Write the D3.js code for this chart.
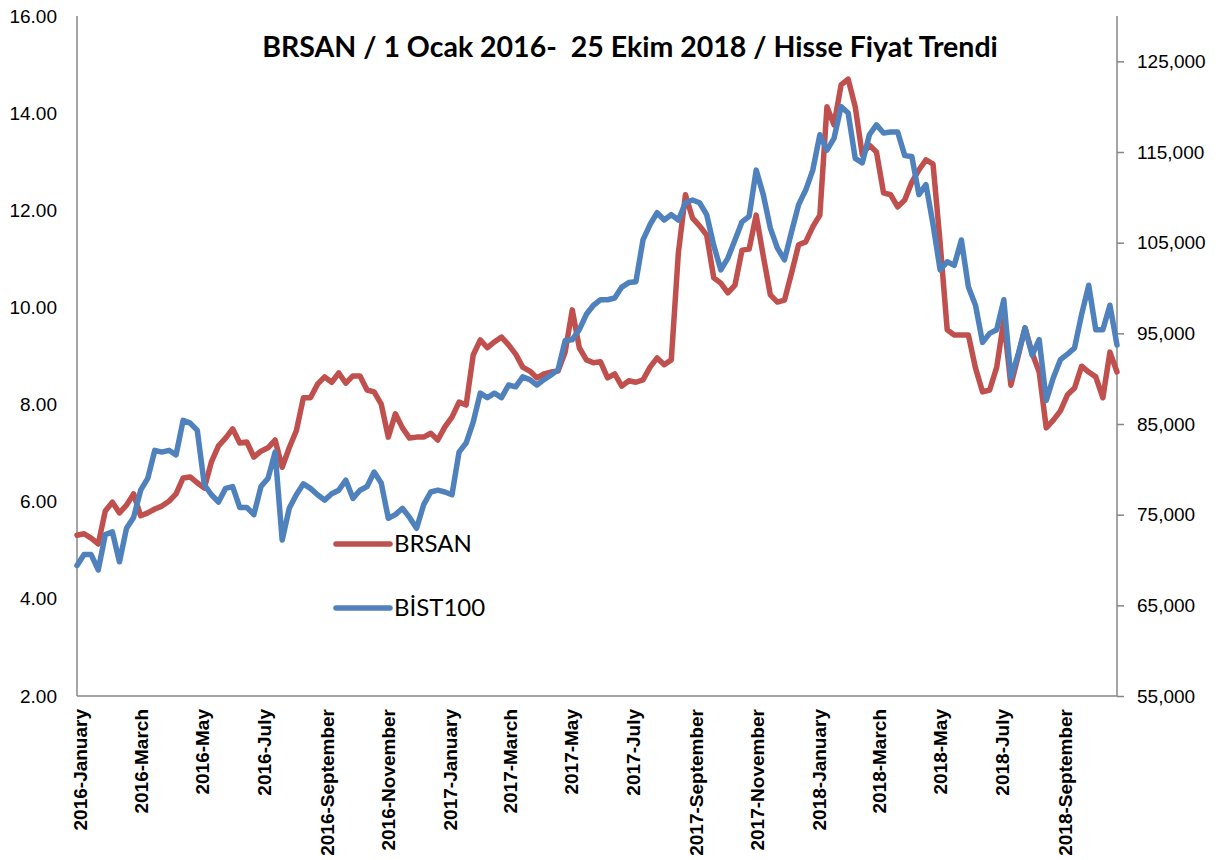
<!DOCTYPE html>
<html>
<head>
<meta charset="utf-8">
<script src="https://cdn.jsdelivr.net/npm/d3@7"></script>
<style>
  body { margin: 0; background: #fff; }
  svg { display: block; font-family: Lato, "Open Sans", sans-serif; }
</style>
</head>
<body>
<div id="chart"></div>
<script>
// weekly closes (Fridays) from 1 Jan 2016 to 26 Oct 2018
const weekDates = d3.timeFriday.range(new Date(2016, 0, 1), new Date(2018, 9, 27));

const brsan = [5.31, 5.34, 5.25, 5.13, 5.81, 5.99, 5.77, 5.93, 6.16, 5.71,
  5.77, 5.85, 5.91, 6.01, 6.16, 6.49, 6.51, 6.39, 6.28, 6.82,
  7.15, 7.31, 7.50, 7.21, 7.23, 6.92, 7.04, 7.11, 7.27, 6.71,
  7.11, 7.46, 8.14, 8.14, 8.42, 8.57, 8.46, 8.65, 8.44, 8.59,
  8.59, 8.30, 8.26, 8.01, 7.33, 7.81, 7.52, 7.31, 7.33, 7.33,
  7.41, 7.27, 7.54, 7.74, 8.05, 7.99, 9.02, 9.33, 9.17, 9.29,
  9.39, 9.23, 9.04, 8.77, 8.69, 8.55, 8.63, 8.67, 8.69, 9.08,
  9.95, 9.17, 8.92, 8.86, 8.88, 8.55, 8.63, 8.38, 8.49, 8.46,
  8.51, 8.77, 8.96, 8.82, 8.92, 11.12, 12.32, 11.84, 11.68, 11.49,
  10.61, 10.50, 10.30, 10.46, 11.18, 11.20, 11.90, 11.06, 10.26, 10.11,
  10.15, 10.71, 11.29, 11.35, 11.66, 11.90, 14.13, 13.76, 14.58, 14.70,
  14.13, 13.14, 13.34, 13.20, 12.36, 12.32, 12.07, 12.21, 12.58, 12.83,
  13.04, 12.95, 11.33, 9.54, 9.43, 9.43, 9.43, 8.75, 8.26, 8.30,
  8.77, 9.74, 8.40, 8.98, 9.58, 9.06, 8.67, 7.52, 7.68, 7.87,
  8.20, 8.34, 8.79, 8.67, 8.57, 8.14, 9.08, 8.67];

const bist100 = [69400, 70600, 70600, 68900, 72800, 73100, 69800, 73500, 74700, 77700,
  79000, 82100, 81900, 82100, 81600, 85400, 85100, 84300, 78300, 77200,
  76400, 77900, 78100, 75800, 75800, 75000, 78100, 79000, 81900, 72200,
  75700, 77200, 78400, 77900, 77200, 76600, 77300, 77700, 78800, 76800,
  77700, 78100, 79700, 78500, 74600, 75000, 75700, 74700, 73500, 76100,
  77500, 77700, 77500, 77200, 81900, 82900, 85200, 88400, 87900, 88400,
  87900, 89300, 89100, 90200, 89900, 89300, 89900, 90400, 91000, 94200,
  94300, 95400, 97100, 98100, 98700, 98700, 98900, 100100, 100600, 100700,
  105300, 107000, 108300, 107500, 108100, 107500, 109400, 109700, 109400, 108100,
  104700, 102000, 103300, 105300, 107300, 107900, 113000, 110300, 106600, 104400,
  103100, 106200, 109200, 110800, 113000, 116900, 115200, 116500, 120000, 119300,
  114300, 113800, 116900, 118000, 117100, 117200, 117200, 114600, 114500, 110300,
  111400, 107000, 102000, 102900, 102500, 105300, 100100, 98100, 94000, 95000,
  95400, 98700, 90100, 92600, 95600, 92600, 94300, 87600, 90100, 92100,
  92700, 93400, 97100, 100300, 95400, 95400, 98100, 93700];

const leftTicks = [2, 4, 6, 8, 10, 12, 14, 16];
const rightTicks = [55000, 65000, 75000, 85000, 95000, 105000, 115000, 125000];
const monthTicks = d3.timeMonth.every(2).range(new Date(2016, 0, 1), new Date(2018, 9, 2));
const seriesNames = ['BRSAN', 'BİST100'];
const seriesColors = ['#c0504d', '#4f81bd'];

const width = 1219, height = 860;
const margin = { top: 16, right: 102, bottom: 164, left: 77 };

const svg = d3.select('#chart').append('svg')
  .attr('width', width).attr('height', height);
svg.append('rect').attr('width', width).attr('height', height).attr('fill', '#fff');

const xScale = d3.scaleTime()
  .domain([new Date(2016, 0, 1), new Date(2018, 9, 26)])
  .range([margin.left, width - margin.right]);
const yLeft = d3.scaleLinear().domain([2, 16]).range([height - margin.bottom, margin.top]);
const yRight = d3.scaleLinear().domain([55000, 130000]).range([height - margin.bottom, margin.top]);

// axes
const leftAxisG = svg.append('g').attr('transform', `translate(${margin.left},0)`)
  .call(d3.axisLeft(yLeft).tickValues(leftTicks).tickFormat(d3.format('.2f')).tickSize(0).tickPadding(20));
const rightAxisG = svg.append('g').attr('transform', `translate(${width - margin.right},0)`)
  .call(d3.axisRight(yRight).tickValues(rightTicks).tickFormat(d3.format(',')).tickSize(7).tickPadding(13));
const xAxisG = svg.append('g').attr('transform', `translate(0,${height - margin.bottom})`)
  .call(d3.axisBottom(xScale).tickValues(monthTicks).tickFormat(d3.timeFormat('%Y-%B')).tickSize(0));

[leftAxisG, rightAxisG, xAxisG].forEach(g => {
  g.select('.domain').attr('stroke', '#868686').attr('stroke-width', 1.5);
  g.selectAll('.tick line').attr('stroke', '#868686').attr('stroke-width', 1.5);
  g.selectAll('.tick text').attr('fill', '#000').style('font-size', '19px');
});
// plain axis lines, no end caps
xAxisG.select('.domain').attr('d', `M${margin.left},0H${width - margin.right}`);
leftAxisG.select('.domain').attr('d', `M0,${margin.top}V${height - margin.bottom}`);
rightAxisG.select('.domain').attr('d', `M0,${margin.top}V${height - margin.bottom}`);

xAxisG.selectAll('.tick text')
  .style('font-size', '19px').style('font-weight', 'bold')
  .attr('text-anchor', 'end')
  .attr('transform', 'rotate(-90)')
  .attr('x', -13).attr('y', 3).attr('dy', '0.35em');

// lines (BİST100 on the secondary axis is drawn on top)
const lineLeft = d3.line().x((d, i) => xScale(weekDates[i])).y(d => yLeft(d));
const lineRight = d3.line().x((d, i) => xScale(weekDates[i])).y(d => yRight(d));

svg.append('path').datum(brsan)
  .attr('d', lineLeft)
  .attr('fill', 'none').attr('stroke', seriesColors[0]).attr('stroke-width', 5.5)
  .attr('stroke-linejoin', 'round').attr('stroke-linecap', 'round');
svg.append('path').datum(bist100)
  .attr('d', lineRight)
  .attr('fill', 'none').attr('stroke', seriesColors[1]).attr('stroke-width', 5.5)
  .attr('stroke-linejoin', 'round').attr('stroke-linecap', 'round');

// legend
const legend = svg.append('g').attr('transform', 'translate(336,544)');
seriesNames.forEach((name, i) => {
  const row = legend.append('g').attr('transform', `translate(0,${i * 64})`);
  row.append('line').attr('x1', 0).attr('x2', 54).attr('y1', 0).attr('y2', 0)
    .attr('stroke', seriesColors[i]).attr('stroke-width', 5.5).attr('stroke-linecap', 'round');
  row.append('text').attr('x', 58).attr('y', 0).attr('dy', '0.35em')
    .style('font-size', '24px').attr('fill', '#000').text(name);
});

// title
svg.append('text')
  .attr('x', 630).attr('y', 57)
  .attr('text-anchor', 'middle')
  .style('font-size', '28.5px').style('font-weight', 'bold')
  .style('white-space', 'pre')
  .text('BRSAN / 1 Ocak 2016-  25 Ekim 2018 / Hisse Fiyat Trendi');
</script>
</body>
</html>
